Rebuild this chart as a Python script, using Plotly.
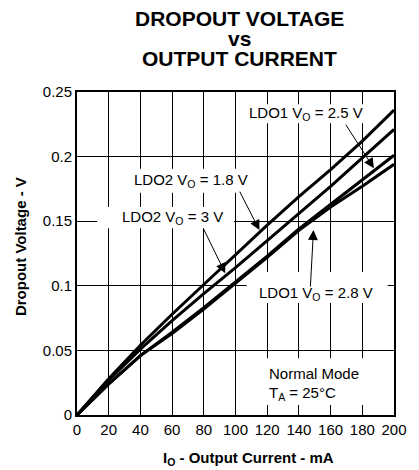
import plotly.graph_objects as go

# Output current (mA) and dropout voltage (V) for each regulator setting
current_ma = [0, 20, 40, 60, 80, 100, 120, 140, 160, 180, 200]
ldo2_1v8 = [0, 0.028, 0.054, 0.078, 0.101, 0.124, 0.147, 0.169, 0.190, 0.212, 0.236]
ldo2_3v0 = [0, 0.027, 0.051, 0.073, 0.094, 0.114, 0.135, 0.156, 0.177, 0.199, 0.221]
ldo1_2v5 = [0, 0.024, 0.046, 0.064, 0.083, 0.103, 0.123, 0.144, 0.163, 0.182, 0.201]
ldo1_2v8 = [0, 0.024, 0.046, 0.063, 0.082, 0.102, 0.122, 0.143, 0.161, 0.177, 0.194]

series = [
    ("LDO2 1.8 V", ldo2_1v8),
    ("LDO2 3 V", ldo2_3v0),
    ("LDO1 2.5 V", ldo1_2v5),
    ("LDO1 2.8 V", ldo1_2v8),
]

x_ticks = list(range(0, 201, 20))
y_ticks = [0, 0.05, 0.1, 0.15, 0.2, 0.25]
y_tick_text = ["0", "0.05", "0.1", "0.15", "0.2", "0.25"]

FONT = "Liberation Sans, Arial, Helvetica, sans-serif"

fig = go.Figure()
for name, vals in series:
    fig.add_trace(go.Scatter(
        x=current_ma, y=vals, mode="lines", name=name,
        line=dict(color="black", width=3), showlegend=False,
    ))

# White label backgrounds that break the grid but sit under the curves
label_boxes = [
    (102, 183, 0.2258, 0.2405),   # LDO1 2.5 V
    (31, 112, 0.1720, 0.1905),    # LDO2 1.8 V
    (12.7, 99, 0.1446, 0.1610),   # LDO2 3 V
    (107, 196, 0.0866, 0.1106),   # LDO1 2.8 V
    (116, 182, 0.0077, 0.0440),   # conditions
]
for x0, x1, y0, y1 in label_boxes:
    fig.add_shape(type="rect", xref="x", yref="y", x0=x0, x1=x1, y0=y0, y1=y1,
                  fillcolor="white", line=dict(width=0), layer="between")

labels = [
    ("LDO1 V<sub>O</sub> = 2.5 V", 107.1, 0.2336),
    ("LDO2 V<sub>O</sub> = 1.8 V", 34.9, 0.1817),
    ("LDO2 V<sub>O</sub> = 3 V", 26.9, 0.1531),
    ("LDO1 V<sub>O</sub> = 2.8 V", 113.3, 0.0944),
    ("Normal Mode", 119.9, 0.0325),
    ("T<sub>A</sub> = 25°C", 119.9, 0.0170),
]
for text, x, y in labels:
    fig.add_annotation(text=text, x=x, y=y, xref="x", yref="y",
                       xanchor="left", yanchor="middle", showarrow=False,
                       font=dict(family=FONT, size=15, color="black"))

# Leader arrows: (tail x, tail y, head x, head y)
arrows = [
    (169.0, 0.2258, 187.3, 0.1910),
    (102.2, 0.1740, 115.1, 0.1431),
    (79.3, 0.1454, 93.5, 0.1098),
    (147.2, 0.0982, 149.2, 0.1431),
]
for ax, ay, x, y in arrows:
    fig.add_annotation(text="", x=x, y=y, ax=ax, ay=ay,
                       xref="x", yref="y", axref="x", ayref="y",
                       showarrow=True, arrowhead=2, arrowsize=2.0,
                       arrowwidth=1, arrowcolor="black", standoff=0)

# Title lines
for text, py in [("DROPOUT VOLTAGE", 18), ("vs", 38), ("OUTPUT CURRENT", 59)]:
    fig.add_annotation(text=f"<b>{text}</b>", xref="paper", yref="paper",
                       x=(242.5 - 77) / 323, y=(415 - py) / 323,
                       xanchor="center", yanchor="middle", showarrow=False,
                       font=dict(family=FONT, size=21, color="black"))

# Axis titles
fig.add_annotation(text="<b>I<sub>O</sub> - Output Current - mA</b>",
                   xref="paper", yref="paper",
                   x=(252 - 77) / 323, y=(415 - 458) / 323,
                   xanchor="center", yanchor="middle", showarrow=False,
                   font=dict(family=FONT, size=15, color="black"))
fig.add_annotation(text="<b>Dropout Voltage - V</b>",
                   xref="paper", yref="paper",
                   x=(19 - 77) / 323, y=(415 - 247) / 323,
                   xanchor="center", yanchor="middle", textangle=-90,
                   showarrow=False,
                   font=dict(family=FONT, size=15, color="black"))

fig.update_xaxes(range=[0, 200], tickvals=x_ticks, showgrid=True,
                 gridcolor="black", gridwidth=1, zeroline=False,
                 showline=True, linecolor="black", linewidth=2, mirror=True,
                 ticks="", tickfont=dict(family=FONT, size=15, color="black"))
fig.update_yaxes(range=[0, 0.25], tickvals=y_ticks, ticktext=y_tick_text,
                 showgrid=True, gridcolor="black", gridwidth=1, zeroline=False,
                 showline=True, linecolor="black", linewidth=2, mirror=True,
                 ticks="", tickfont=dict(family=FONT, size=15, color="black"))

fig.update_layout(
    width=419, height=470,
    margin=dict(l=77, r=19, t=92, b=55, pad=0),
    paper_bgcolor="white", plot_bgcolor="white",
    font=dict(family=FONT, color="black"),
)

fig.write_html("out.html", config={"displayModeBar": False})
